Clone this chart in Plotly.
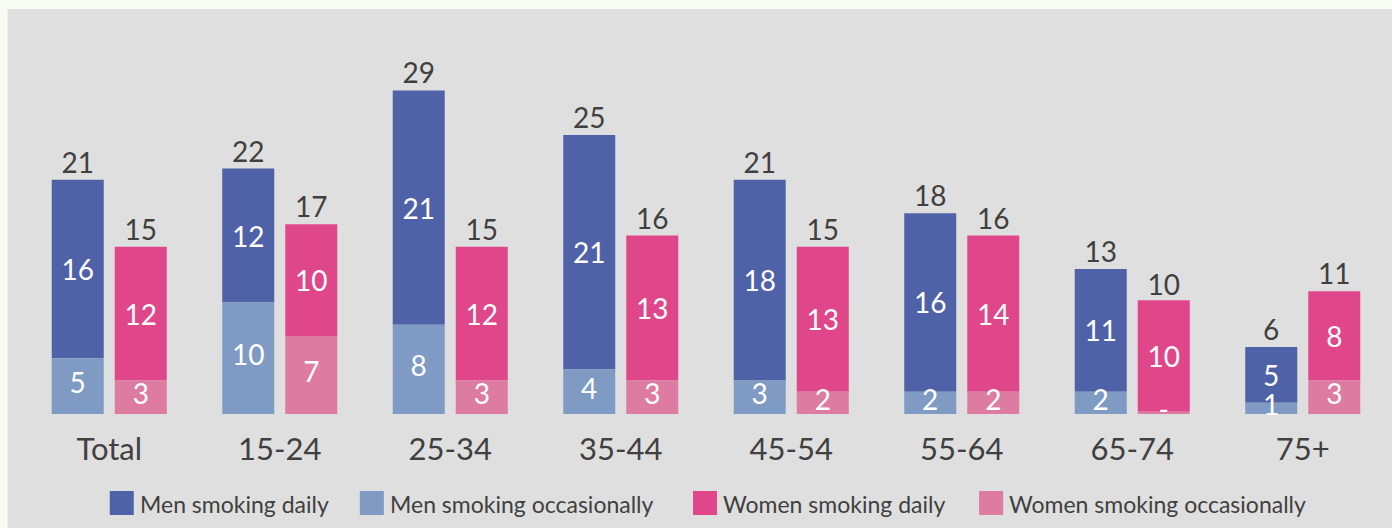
import plotly.graph_objects as go

categories = ["Total", "15-24", "25-34", "35-44", "45-54", "55-64", "65-74", "75+"]
men_daily = [16, 12, 21, 21, 18, 16, 11, 5]
men_occ = [5, 10, 8, 4, 3, 2, 2, 1]
men_total = [21, 22, 29, 25, 21, 18, 13, 6]
women_daily = [12, 10, 12, 13, 13, 14, 10, 8]
women_occ = [3, 7, 3, 3, 2, 2, 0.2, 3]
women_occ_labels = ["3", "7", "3", "3", "2", "2", "-", "3"]
women_total = [15, 17, 15, 16, 15, 16, 10, 11]
legend_names = ["Men smoking daily", "Men smoking occasionally",
                "Women smoking daily", "Women smoking occasionally"]

C_MD = "#4f62a8"
C_MO = "#7f9bc4"
C_WD = "#e0478a"
C_WO = "#dd7ca0"
BG = "#dfdfdf"
PAGE = "#f7fbf4"
TXT = "#404040"
FONT = "Lato"

W, H = 1392, 528
L, R, T, B = 24.3, 4.3, 57, 114
PW = W - L - R
PH = H - T - B

OFF = 0.1848
BW = 0.305
idx = list(range(len(categories)))
xm = [i - OFF for i in idx]
xw = [i + OFF for i in idx]

inner_font = dict(family=FONT, size=28, color="white")


def seg(x, y, base, color, labels):
    return go.Bar(x=x, y=y, base=base, width=BW, marker=dict(color=color, line=dict(width=0)),
                  text=labels, textposition="inside" if labels else "none",
                  insidetextanchor="middle",
                  constraintext="none", textangle=0, textfont=inner_font,
                  showlegend=False, hoverinfo="skip")


fig = go.Figure()
fig.add_trace(seg(xm, men_daily, men_occ, C_MD, [str(v) for v in men_daily]))
fig.add_trace(seg(xw, women_daily, women_occ, C_WD, [str(v) for v in women_daily]))
fig.add_trace(seg(xm, men_occ, None, C_MO, None))
fig.add_trace(seg(xw, women_occ, None, C_WO, None))

# labels of the occasional segments, centred on each segment (drawn on top)
fig.add_trace(go.Scatter(x=xm, y=[v / 2 for v in men_occ], mode="text",
                         text=[str(v) for v in men_occ], textposition="middle center",
                         textfont=inner_font, showlegend=False, hoverinfo="skip",
                         cliponaxis=False))
fig.add_trace(go.Scatter(x=xw, y=[v / 2 for v in women_occ], mode="text",
                         text=women_occ_labels, textposition="middle center",
                         textfont=inner_font, showlegend=False, hoverinfo="skip",
                         cliponaxis=False))

tot_font = dict(family=FONT, size=28, color=TXT)
fig.add_trace(go.Scatter(x=xm, y=men_total, mode="text", text=[str(v) for v in men_total],
                         textposition="top center", textfont=tot_font, showlegend=False,
                         hoverinfo="skip", cliponaxis=False))
fig.add_trace(go.Scatter(x=xw, y=women_total, mode="text", text=[str(v) for v in women_total],
                         textposition="top center", textfont=tot_font, showlegend=False,
                         hoverinfo="skip", cliponaxis=False))


def px2x(px):
    return (px - L) / PW


def py2y(py):
    return (H - B - py) / PH


shapes = [dict(type="rect", xref="paper", yref="paper", layer="below",
               x0=px2x(8), x1=px2x(W + 5), y0=py2y(H + 5), y1=py2y(9),
               fillcolor=BG, line=dict(width=0))]
annotations = []
sw_x = [110, 360, 693, 979]
sw_colors = [C_MD, C_MO, C_WD, C_WO]
for sx, col, name in zip(sw_x, sw_colors, legend_names):
    shapes.append(dict(type="rect", xref="paper", yref="paper",
                       x0=px2x(sx), x1=px2x(sx + 24), y0=py2y(515), y1=py2y(491),
                       fillcolor=col, line=dict(width=0)))
    annotations.append(dict(xref="paper", yref="paper", x=px2x(sx + 28), y=py2y(504),
                            xanchor="left", yanchor="middle", showarrow=False, text=name,
                            font=dict(family=FONT, size=23, color=TXT)))

fig.update_layout(
    width=W, height=H,
    margin=dict(l=L, r=R, t=T, b=B, pad=0),
    paper_bgcolor=PAGE, plot_bgcolor=BG,
    barmode="overlay",
    showlegend=False,
    shapes=shapes, annotations=annotations,
    xaxis=dict(range=[-0.5, len(categories) - 0.5], tickvals=idx, ticktext=categories,
               showgrid=False, zeroline=False, showline=False, ticks="",
               ticklabelstandoff=14,
               tickfont=dict(family=FONT, size=31, color=TXT), fixedrange=True),
    yaxis=dict(range=[0, 32], visible=False, fixedrange=True),
)

fig.write_html("out.html")
